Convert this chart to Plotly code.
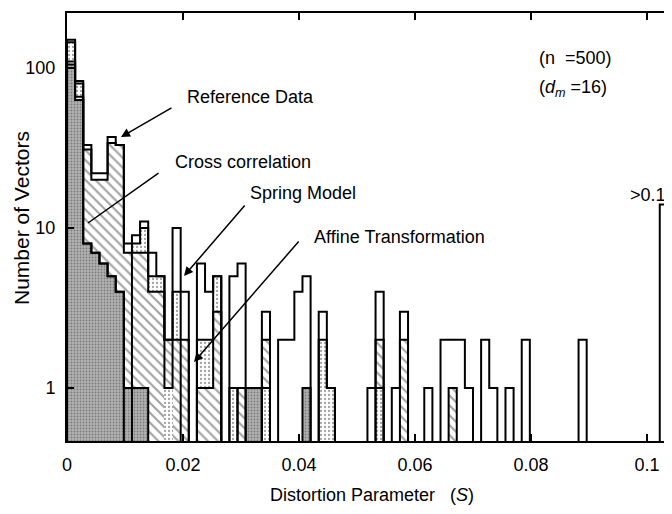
import numpy as np
import plotly.graph_objects as go

# ---------------- data (counts per bin, bin width 0.0014) ----------------
bin_width = 0.0014
reference_data = [150, 83, 33, 22, 22, 37, 33, 8, 9, 11, 7, 5, 2, 10, 4, 0, 6, 4, 5, 0,
                  5, 6, 1, 1, 3, 0, 2, 2, 4, 5, 0, 3, 1, 0, 0, 0, 0, 1, 4, 0,
                  1, 3, 0, 0, 1, 0, 2, 2, 2, 1, 0, 2, 1, 0, 1, 0, 2, 0, 0, 0,
                  0, 0, 0, 2, 0, 0, 0, 0, 0, 0, 0, 0, 0, 14]
spring_model = [145, 80, 8, 7, 6, 5, 4, 0, 8, 10, 5, 5, 1, 4, 0, 0, 2, 2, 5, 0,
                1, 0, 0, 0, 1, 0, 0, 0, 0, 0, 0, 2, 1, 0, 0, 0, 0, 0, 1, 0] + [0] * 34
cross_correlation = [110, 66, 31, 20, 20, 34, 33, 7, 7, 7, 4, 4, 2, 2, 2, 0, 1, 1, 3, 0,
                     0, 1, 0, 0, 2, 0, 0, 0, 0, 0, 0, 0, 0, 0, 0, 0, 0, 0, 2, 0,
                     0, 2, 0, 0, 0, 0, 0, 1, 0, 0, 0, 0, 0, 0, 0, 0, 0, 0, 0, 0] + [0] * 14
affine_transformation = [105, 63, 8, 7, 6, 5, 4, 1, 1, 1, 0, 0, 0, 0, 0, 0, 0, 0, 0, 0,
                         0, 0, 1, 1, 0, 0, 0, 0, 0, 1] + [0] * 44

x_ticks = [0, 0.02, 0.04, 0.06, 0.08, 0.1]
x_tick_labels = ["0", "0.02", "0.04", "0.06", "0.08", "0.1"]
y_ticks = [1, 10, 100]
y_tick_labels = ["1", "10", "100"]

series = [
    ("Reference Data", reference_data, dict(color="white", shape="", fg="black", size=8, sol=0.2)),
    ("Spring Model", spring_model, dict(color="white", shape=".", fg="#111111", size=4, sol=0.25)),
    ("Cross correlation", cross_correlation, dict(color="white", shape="\\", fg="black", size=7, sol=0.3)),
    ("Affine Transformation", affine_transformation, dict(color="#b2b2b2", shape=".", fg="#6a6a6a", size=3, sol=0.3)),
]

n_bins = len(reference_data)
counts = np.array([s[1] for s in series], dtype=float)  # (4, n_bins)
edges = np.arange(n_bins + 1) * bin_width
centers = edges[:-1] + bin_width / 2

fig = go.Figure()

# per-bin ordering: tallest drawn first, shortest in front
order = np.array([np.lexsort((np.arange(len(series)), -counts[:, i])) for i in range(n_bins)]).T
for rank in range(len(series)):
    idx = order[rank]
    vals = counts[idx, np.arange(n_bins)]
    y = [v if v > 0 else None for v in vals]
    st = [series[k][2] for k in idx]
    fig.add_trace(go.Bar(
        x=centers, y=y, width=bin_width,
        marker=dict(
            color=[s["color"] for s in st],
            line=dict(width=0),
            pattern=dict(shape=[s["shape"] for s in st],
                         fgcolor=[s["fg"] for s in st],
                         bgcolor=[s["color"] for s in st],
                         size=[s["size"] for s in st],
                         solidity=[s["sol"] for s in st],
                         fillmode="overlay"),
        ),
        showlegend=False, hoverinfo="skip",
    ))

# step outlines of each histogram
floor = 0.05
for name, vals, st in series:
    ys = [floor] + [v if v > 0 else floor for v in vals] + [floor]
    xs = [edges[0]] + list(edges)
    fig.add_trace(go.Scatter(x=xs, y=ys, mode="lines", line=dict(color="black", width=2, shape="hv"),
                             showlegend=False, hoverinfo="skip", name=name))

# dummy trace to show right-hand tick marks
fig.add_trace(go.Scatter(x=[0.05], y=[1], yaxis="y2", mode="markers", marker=dict(opacity=0),
                         showlegend=False, hoverinfo="skip"))

# page geometry (the page body adds an 8px offset)
OX, OY = 8, 8
PAGE_W, PAGE_H = 672, 514
L, R, T, B = 67, 672, 13, 441
FIG_W, FIG_H = PAGE_W - OX, PAGE_H - OY


def paper(px, py):
    return (px - L) / (R - L), (B - py) / (B - T)


font = dict(family="Liberation Sans, Arial, sans-serif", size=18, color="black")
annotations = []


def text(s, px, py, xanchor="left", size=18, angle=0):
    x, y = paper(px, py)
    annotations.append(dict(text=s, x=x, y=y, xref="paper", yref="paper", showarrow=False,
                            xanchor=xanchor, yanchor="middle", textangle=angle,
                            font=dict(font, size=size)))


def arrow(tail, tip, head=2):
    x, y = paper(*tip)
    annotations.append(dict(text="", x=x, y=y, xref="paper", yref="paper", showarrow=True,
                            ax=tail[0] - tip[0], ay=tail[1] - tip[1], arrowhead=head,
                            arrowsize=1.2, arrowwidth=1.5, arrowcolor="black"))


text("Reference Data", 185, 97)
text("Cross correlation", 173, 162)
text("Spring Model", 248, 193)
text("Affine Transformation", 312, 237)
text("(n\u00a0\u00a0=500)", 537, 58)
text("(<i>d</i><sub><i>m</i></sub>\u00a0=16)", 537, 88)
text(">0.1", 648, 195, xanchor="center")
arrow((173, 107), (121, 137), head=2)
arrow((160, 172), (88, 223), head=0)
arrow((246, 204), (184, 276), head=2)
arrow((300, 240), (194, 362), head=2)

# axis titles
text("Distortion Parameter\u00a0\u00a0\u00a0(<i>S</i>)", 372, 495, xanchor="center")
text("Number of Vectors", 21, 218, xanchor="center", size=21, angle=-90)

ylog_bottom = -(B - 388) / 160
ylog_top = (388 - T) / 160
x_max = (R - L) / 5800

fig.update_layout(
    width=FIG_W, height=FIG_H,
    margin=dict(l=L - OX, r=PAGE_W - R, t=T - OY, b=PAGE_H - B),
    paper_bgcolor="white", plot_bgcolor="white",
    barmode="overlay", bargap=0,
    font=font,
    annotations=annotations,
    xaxis=dict(range=[0, x_max], tickvals=x_ticks, ticktext=x_tick_labels, ticks="inside",
               ticklen=7, tickwidth=2, tickcolor="black", showline=True, linewidth=2,
               linecolor="black", mirror="ticks", showgrid=False, zeroline=False,
               ticklabelstandoff=6, tickfont=font),
    yaxis=dict(type="log", range=[ylog_bottom, ylog_top], tickvals=y_ticks, ticktext=y_tick_labels,
               ticks="inside", ticklen=7, tickwidth=2, tickcolor="black", showline=True,
               linewidth=2, linecolor="black", showgrid=False, zeroline=False,
               ticklabelstandoff=6, tickfont=font),
    yaxis2=dict(type="log", range=[ylog_bottom, ylog_top], overlaying="y", side="right",
                tickvals=y_ticks, ticks="inside", ticklen=7, tickwidth=2, tickcolor="black",
                showticklabels=False, showline=False, showgrid=False, zeroline=False),
)

fig.write_html("out.html")
